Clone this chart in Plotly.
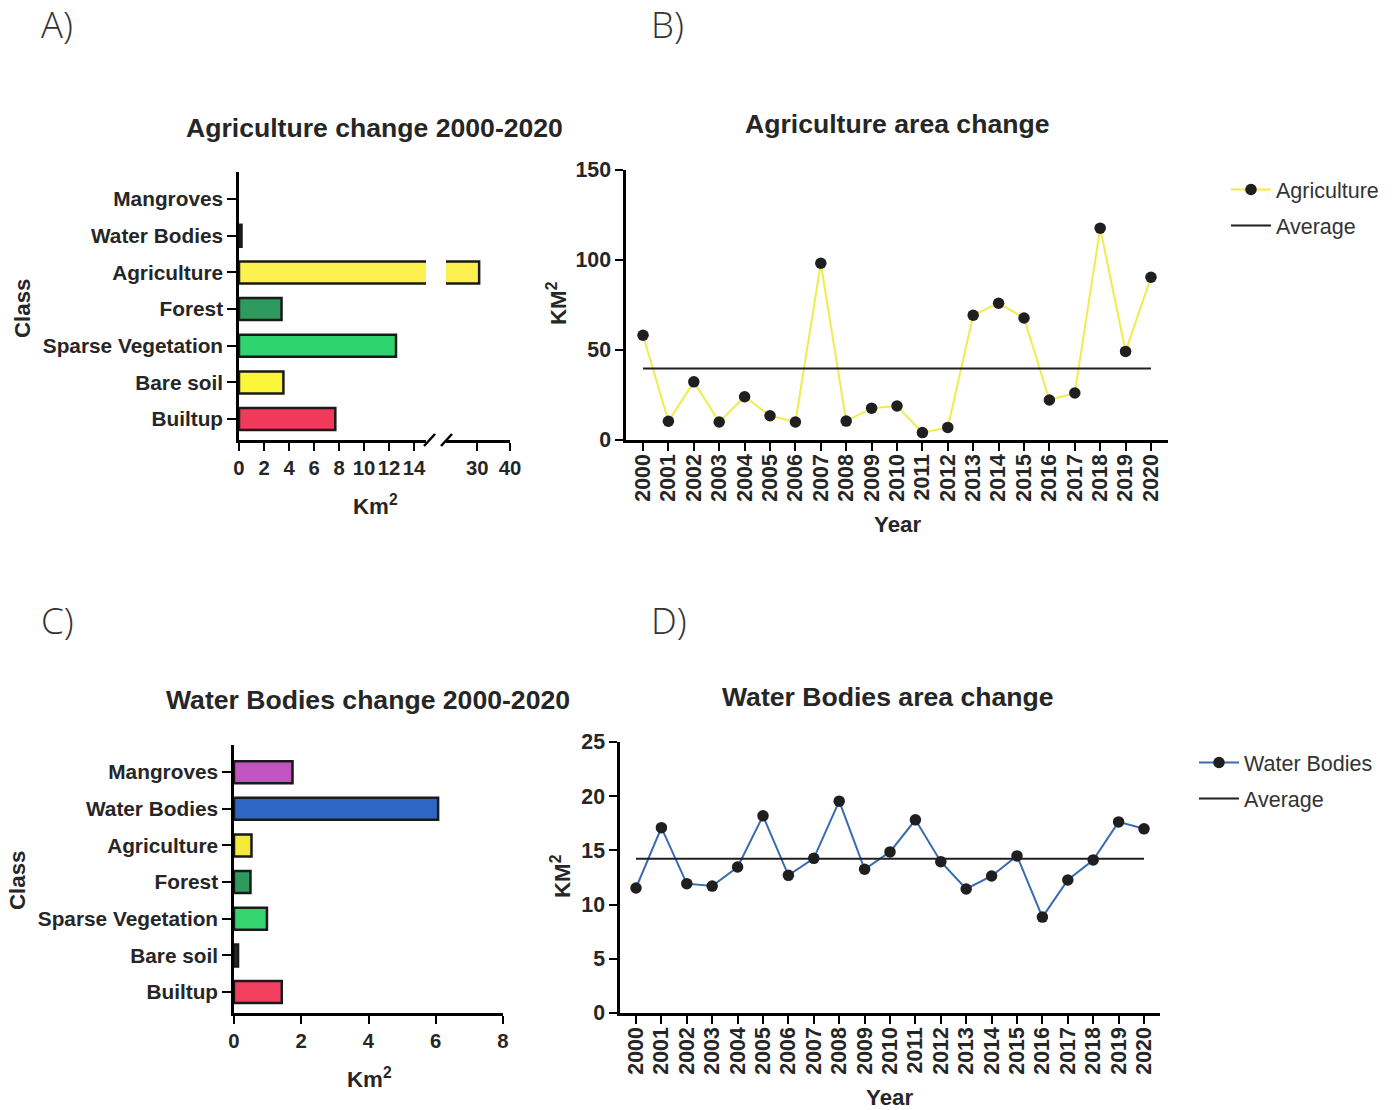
import numpy as np
import plotly.graph_objects as go

# ---------------------------------------------------------------- data
classes = ["Mangroves", "Water Bodies", "Agriculture", "Forest",
           "Sparse Vegetation", "Bare soil", "Builtup"]

# change (km2) of each class into Agriculture, 2000-2020
agri_change = [0.0, 0.2, 30.6, 3.4, 12.55, 3.55, 7.7]
agri_colors = ["#c254c0", "#2d66c4", "#fbf04e", "#2f9a5e",
               "#2fd46f", "#fbf53a", "#f1395a"]

# change (km2) of each class into Water Bodies, 2000-2020
water_change = [1.74, 6.07, 0.52, 0.49, 0.98, 0.12, 1.42]
water_colors = ["#c254c0", "#2d66c4", "#f5e93c", "#2f9a5e",
                "#35d46e", "#2b2b2b", "#f23f60"]

years = list(range(2000, 2021))
agri_area = [58.2, 10.4, 32.3, 10.0, 24.0, 13.5, 10.0, 98.2, 10.5, 17.7, 18.9,
             4.1, 7.0, 69.3, 76.0, 67.8, 22.2, 26.1, 117.7, 49.2, 90.4]
water_area = [11.53, 17.10, 11.93, 11.71, 13.47, 18.19, 12.70, 14.27, 19.54,
              13.26, 14.86, 17.82, 13.96, 11.44, 12.64, 14.49, 8.85, 12.27,
              14.12, 17.63, 16.99]

seg1_ticks = [0, 2, 4, 6, 8, 10, 12, 14]
seg2_ticks = [30, 40]
wb_ticks = [0, 2, 4, 6, 8]

# ---------------------------------------------------------------- layout helpers
W, H = 1397, 1110
# positions below are given in page pixels, measured from the top-left corner
def px(x):
    return x / W
def py(y):
    return 1 - y / H

LABEL_FONT = "Liberation Sans, Arial, sans-serif"
INK = "#262626"
bold = dict(family=LABEL_FONT, color=INK, weight="bold")

axis_common = dict(
    showline=True, linecolor="black", linewidth=2.5,
    ticks="outside", ticklen=8, tickwidth=2, tickcolor="black",
    showgrid=False, zeroline=False, mirror=False,
    tickfont=dict(size=20.3, **bold),
)

def outline_widths(values):
    # no outline for empty bars
    return [0 if v == 0 else 2.5 for v in values]

fig = go.Figure()

# ---------------------------------------------------------------- A) bars, broken axis
cat_order = classes[::-1]
for xa in ("x", "x2"):
    fig.add_trace(go.Bar(
        x=agri_change, y=classes, orientation="h", xaxis=xa, yaxis="y",
        width=0.6,
        marker=dict(color=agri_colors,
                    line=dict(color="#1a1a1a", width=outline_widths(agri_change))),
        showlegend=False, hoverinfo="x+y",
    ))

# ---------------------------------------------------------------- B) agriculture time series
fig.add_trace(go.Scatter(
    x=years, y=agri_area, xaxis="x3", yaxis="y3", mode="lines+markers",
    name="Agriculture", legend="legend", legendgroup="a1",
    line=dict(color="#f0ec4e", width=2),
    marker=dict(color="#1f1f1f", size=11.5),
))
agri_mean = float(np.mean(agri_area))
fig.add_trace(go.Scatter(
    x=[years[0], years[-1]], y=[agri_mean, agri_mean], xaxis="x3", yaxis="y3",
    mode="lines", name="Average", legend="legend", legendgroup="a2",
    line=dict(color="#1f1f1f", width=2),
))

# ---------------------------------------------------------------- C) water bodies bars
fig.add_trace(go.Bar(
    x=water_change, y=classes, orientation="h", xaxis="x4", yaxis="y4",
    width=0.6,
    marker=dict(color=water_colors,
                line=dict(color="#1a1a1a", width=outline_widths(water_change))),
    showlegend=False, hoverinfo="x+y",
))

# ---------------------------------------------------------------- D) water bodies time series
fig.add_trace(go.Scatter(
    x=years, y=water_area, xaxis="x5", yaxis="y5", mode="lines+markers",
    name="Water Bodies", legend="legend2", legendgroup="w1",
    line=dict(color="#3a6ab0", width=2),
    marker=dict(color="#1f1f1f", size=11.5),
))
water_mean = float(np.mean(water_area))
fig.add_trace(go.Scatter(
    x=[years[0], years[-1]], y=[water_mean, water_mean], xaxis="x5", yaxis="y5",
    mode="lines", name="Average", legend="legend2", legendgroup="w2",
    line=dict(color="#1f1f1f", width=2),
))

# ---------------------------------------------------------------- axes
yA = [py(440), py(172)]
yB = [py(440), py(170)]
yC = [py(1013), py(745)]
yD = [py(1013), py(742)]

year_axis = dict(axis_common, tickmode="array", tickvals=years,
                 ticktext=[str(y) for y in years], tickangle=-90,
                 ticklabelstandoff=-5,
                 tickfont=dict(size=21.3, **bold))
cat_axis = dict(axis_common, type="category", categoryorder="array",
                categoryarray=cat_order, range=[-0.57, 6.74],
                tickfont=dict(size=20.8, **bold), ticklen=9)

fig.update_layout(
    xaxis=dict(axis_common, domain=[px(239), px(426)], range=[0, 14.95],
               tickvals=seg1_ticks, anchor="y"),
    xaxis2=dict(axis_common, domain=[px(446), px(510)], range=[20.5, 40],
                tickvals=seg2_ticks, anchor="y"),
    yaxis=dict(cat_axis, domain=yA, anchor="x"),
    xaxis3=dict(year_axis, domain=[px(626), px(1168)], range=[1999.33, 2020.67],
                anchor="y3"),
    yaxis3=dict(axis_common, domain=yB, range=[0, 150], tickvals=[0, 50, 100, 150],
                tickfont=dict(size=21.3, **bold), anchor="x3"),
    xaxis4=dict(axis_common, domain=[px(234), px(503)], range=[0, 8],
                tickvals=wb_ticks, anchor="y4"),
    yaxis4=dict(cat_axis, domain=yC, anchor="x4"),
    xaxis5=dict(year_axis, domain=[px(620), px(1160)], range=[1999.37, 2020.63],
                anchor="y5"),
    yaxis5=dict(axis_common, domain=yD, range=[0, 25], tickvals=[0, 5, 10, 15, 20, 25],
                tickfont=dict(size=21.3, **bold), anchor="x5"),
)

# break marks on panel A's value axis
for x0 in (424, 441):
    fig.add_shape(type="line", xref="paper", yref="paper",
                  xsizemode="pixel", ysizemode="pixel",
                  xanchor=px(x0), yanchor=yA[0],
                  x0=0, x1=11, y0=-6, y1=6,
                  line=dict(color="black", width=2.5))

# ---------------------------------------------------------------- legends
legend_font = dict(family=LABEL_FONT, size=21.5, color="#333333")
fig.update_layout(
    legend=dict(x=px(1226), y=py(169), xanchor="left", yanchor="top",
                font=legend_font, tracegroupgap=5, itemwidth=40,
                bgcolor="rgba(0,0,0,0)"),
    legend2=dict(x=px(1194), y=py(742), xanchor="left", yanchor="top",
                 font=legend_font, tracegroupgap=5, itemwidth=40,
                 bgcolor="rgba(0,0,0,0)"),
)

# ---------------------------------------------------------------- text
ann = []
def text(s, x, y, size, angle=0, **font):
    ann.append(dict(text=s, x=px(x), y=py(y), xref="paper", yref="paper",
                    showarrow=False, xanchor="center", yanchor="middle",
                    textangle=angle, font=dict(size=size, **font)))

panel_font = dict(family="Open Sans, sans-serif", color="#333333", weight=300)
text("A)", 57, 24, 36.5, **panel_font)
text("B)", 667, 24, 36.5, **panel_font)
text("C)", 57, 620, 36.5, **panel_font)
text("D)", 669, 620, 36.5, **panel_font)

text("Agriculture change 2000-2020", 374, 128, 26.6, **bold)
text("Agriculture area change", 897, 124, 26.6, **bold)
text("Water Bodies change 2000-2020", 368, 700, 26.6, **bold)
text("Water Bodies area change", 888, 697, 26.6, **bold)

text("Km<sup>2</sup>", 375, 505, 22.3, **bold)
text("Km<sup>2</sup>", 369, 1078, 22.3, **bold)
text("Year", 897, 524, 22.3, **bold)
text("Year", 889, 1097, 22.3, **bold)
text("Class", 22, 308, 22.3, angle=-90, **bold)
text("Class", 17, 880, 22.3, angle=-90, **bold)
text("KM<sup>2</sup>", 557, 303, 22.3, angle=-90, **bold)
text("KM<sup>2</sup>", 561, 876, 22.3, angle=-90, **bold)

fig.update_layout(
    annotations=ann,
    width=W, height=H,
    margin=dict(l=0, r=0, t=0, b=0, autoexpand=False),
    plot_bgcolor="white", paper_bgcolor="white",
)

# let the figure sit flush in the window
fig.write_html("out.html", post_script="document.body.style.margin = '0';")
